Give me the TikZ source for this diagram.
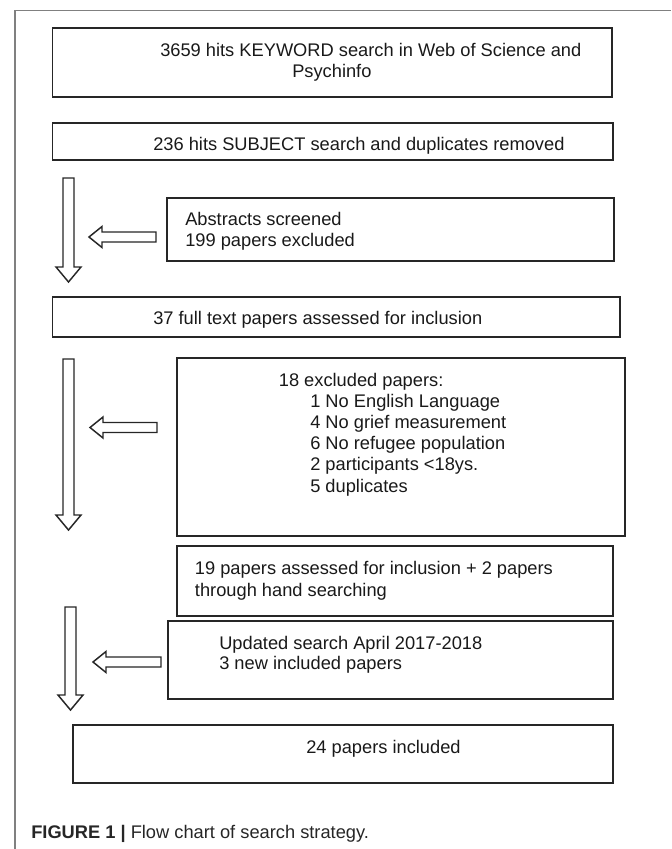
\documentclass[tikz,border=0pt]{standalone}
\usepackage{fontspec}
\setmainfont{Liberation Sans}
\usetikzlibrary{fit,calc}
\newcommand\blockdown[2]{%
  \draw[harrow] ($(#1)+(-5.5,0)$) -- ($(#1)+(5.5,0)$) -- ($(#2)+(5.5,-15)$) -- ($(#2)+(12.5,-15)$)
    -- (#2) -- ($(#2)+(-12.5,-15)$) -- ($(#2)+(-5.5,-15)$) -- cycle;}
\newcommand\blockleft[2]{%
  \draw[harrow] ($(#1)+(0,-5)$) -- ($(#1)+(0,5)$) -- ($(#2)+(13,5)$) -- ($(#2)+(13,10.5)$)
    -- (#2) -- ($(#2)+(13,-10.5)$) -- ($(#2)+(13,-5)$) -- cycle;}
\begin{document}
\begin{tikzpicture}[x=0.75pt,y=-0.75pt,
  box/.style={draw=black!85, line width=1.3pt, inner sep=0pt},
  txt/.style={anchor=base west, inner sep=0pt, font=\fontsize{13.7pt}{16pt}\selectfont, text=black!90},
  harrow/.style={draw=black!85, line width=1.1pt, line join=miter, fill=white},
  frame/.style={draw=black!50, line width=1.1pt}]
\useasboundingbox (0,0) rectangle (671,849);
% frame
\coordinate (fbl) at (15,849);
\coordinate (ftl) at (15,10.7);
\coordinate (ftr) at (671,10.7);
\draw[frame] (fbl) -- (ftl) -- (ftr);
% boxes
\node[box, fit={(52.6,27.7) (612,96.7)}] (b1) {};
\node[box, fit={(52.6,123) (613,160)}] (b2) {};
\node[box, fit={(167,198) (614,261)}] (b3) {};
\node[box, fit={(52.6,297) (620,337)}] (b4) {};
\node[box, fit={(177,358) (625,536)}] (b5) {};
\node[box, fit={(177,546) (613,616)}] (b6) {};
\node[box, fit={(168,621) (613,699)}] (b7) {};
\node[box, fit={(73,725) (613,783)}] (b8) {};
% texts
\node[txt] (t1a) at (160,56.5) {3659 hits KEYWORD search in Web of Science and};
\node[txt] (t1b) at (292,78) {Psychinfo};
\node[txt] (t2) at (153,150) {236 hits SUBJECT search and duplicates removed};
\node[txt] (t3a) at (185,225.7) {Abstracts screened};
\node[txt] (t3b) at (185,246.7) {199 papers excluded};
\node[txt] (t4) at (153,324) {37 full text papers assessed for inclusion};
\node[txt] (t5) at (278.6,386) {18 excluded papers:};
\node[txt] (t5a) at (310,407) {1 No English Language};
\node[txt] (t5b) at (310,428.5) {4 No grief measurement};
\node[txt] (t5c) at (310,449.5) {6 No refugee population};
\node[txt] (t5d) at (310,470.5) {2 participants <18ys.};
\node[txt] (t5e) at (310,492) {5 duplicates};
\node[txt] (t6a) at (194.7,574) {19 papers assessed for inclusion + 2 papers};
\node[txt] (t6b) at (194.7,596) {through hand searching};
\node[txt] (t7a) at (219,649.3) {Updated search April 2017-2018};
\node[txt] (t7b) at (219,669.8) {3 new included papers};
\node[txt] (t8) at (306,753.3) {24 papers included};
% caption
\node[txt, text=black!85] (cap) at (31,838.3) {\textbf{FIGURE 1 |} Flow chart of search strategy.};
% block arrows
\coordinate (d1s) at (68.5,178); \coordinate (d1e) at (68.5,282);
\coordinate (d2s) at (68.5,359); \coordinate (d2e) at (68.5,530);
\coordinate (d3s) at (70.5,607); \coordinate (d3e) at (70.5,710);
\coordinate (l1s) at (156,237); \coordinate (l1e) at (89,237);
\coordinate (l2s) at (157,427.5); \coordinate (l2e) at (90,427.5);
\coordinate (l3s) at (161,662); \coordinate (l3e) at (93,662);
\blockdown{d1s}{d1e}
\blockdown{d2s}{d2e}
\blockdown{d3s}{d3e}
\blockleft{l1s}{l1e}
\blockleft{l2s}{l2e}
\blockleft{l3s}{l3e}
\end{tikzpicture}
\end{document}
